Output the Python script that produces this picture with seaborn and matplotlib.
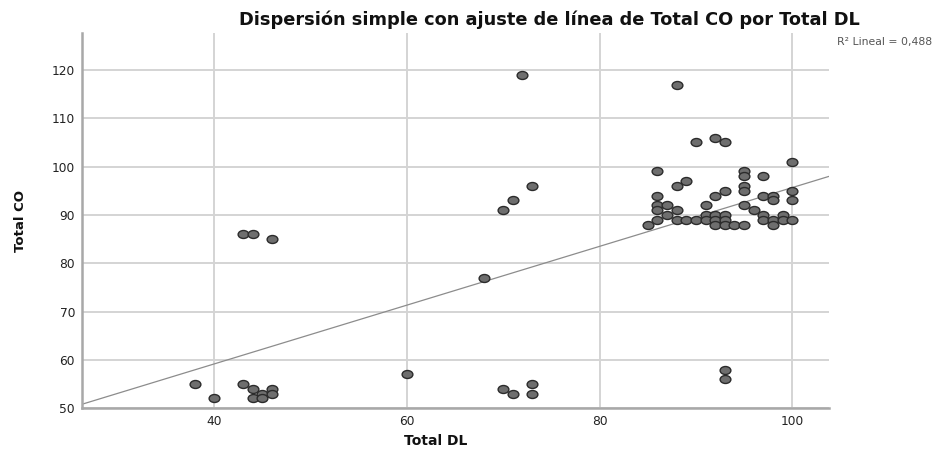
import numpy as np
import pandas as pd
import matplotlib
matplotlib.use("Agg")
import matplotlib.pyplot as plt
from matplotlib.path import Path
from matplotlib.transforms import Affine2D
import seaborn as sns

# ---- data ----
total_dl = [38, 40, 43, 44, 44, 45, 45, 46, 46, 43, 44, 46,
            60, 68, 70, 71, 72, 73, 70, 71, 73, 73,
            88, 93, 93,
            90, 92, 93, 100, 86, 95, 95, 97, 89, 88, 95, 95, 93, 100,
            92, 86, 97, 98, 98, 100, 86, 87, 91, 95, 86, 88, 96,
            87, 91, 92, 93, 97, 99,
            86, 88, 89, 90, 91, 92, 93, 97, 98, 99, 100,
            85, 92, 93, 94, 95, 98]
total_co = [55, 52, 55, 54, 52, 53, 52, 54, 53, 86, 86, 85,
            57, 77, 91, 93, 119, 96, 54, 53, 55, 53,
            117, 58, 56,
            105, 106, 105, 101, 99, 99, 98, 98, 97, 96, 96, 95, 95, 95,
            94, 94, 94, 94, 93, 93, 92, 92, 92, 92, 91, 91, 91,
            90, 90, 90, 90, 90, 90,
            89, 89, 89, 89, 89, 89, 89, 89, 89, 89, 89,
            88, 88, 88, 88, 88, 88]
x_ticks = [40, 60, 80, 100]
y_ticks = [50, 60, 70, 80, 90, 100, 110, 120]
title = "Dispersión simple con ajuste de línea de Total CO por Total DL"
r2_label = "R² Lineal = 0,488"

df = pd.DataFrame({"Total DL": total_dl, "Total CO": total_co})

sns.set_theme(style="white")
plt.rcParams["font.family"] = ["DejaVu Sans"]

fig = plt.figure(figsize=(9.42, 4.5), dpi=100)
ax = fig.add_axes([0.087, 0.093, 0.793, 0.834])
ax.set_xlim(26.3, 103.8)
ax.set_ylim(50, 127.7)

ax.set_xticks(x_ticks)
ax.set_yticks(y_ticks)
ax.grid(True, color="#d4d4d4", linewidth=1.4)
ax.set_axisbelow(True)

sns.regplot(data=df, x="Total DL", y="Total CO", scatter=False, ci=None,
            truncate=False, ax=ax,
            line_kws=dict(color="#8c8c8c", linewidth=0.9))

ell = Path.unit_circle().transformed(Affine2D().scale(1.35, 1.0))
sns.scatterplot(data=df, x="Total DL", y="Total CO", ax=ax, marker=ell,
                s=60, color="#6e6e6e", edgecolor="#2b2b2b", linewidth=1.0,
                zorder=3)
ax.set_xlim(26.3, 103.8)
ax.set_ylim(50, 127.7)

for side in ["top", "right"]:
    ax.spines[side].set_visible(False)
for side in ["left", "bottom"]:
    ax.spines[side].set_color("#a8a8a8")
    ax.spines[side].set_linewidth(1.8)
ax.tick_params(axis="both", length=0, labelsize=8.8, labelcolor="#222222", pad=5)

ax.set_xlabel("Total DL", fontsize=10, fontweight="bold", color="#111111")
ax.set_ylabel("Total CO", fontsize=9.5, fontweight="bold", color="#111111")
ax.xaxis.set_label_coords(0.474, -0.088)
ax.xaxis.label.set_verticalalignment("center")
ax.yaxis.set_label_coords(-0.082, 0.5)
ax.yaxis.label.set_verticalalignment("center")

fig.text(0.583, 0.956, title, ha="center", va="center", fontsize=12.8,
         fontweight="bold", color="#111111")
fig.text(0.889, 0.906, r2_label, ha="left", va="center", fontsize=7.8,
         color="#555555")

fig.savefig("out.png", dpi=100)
